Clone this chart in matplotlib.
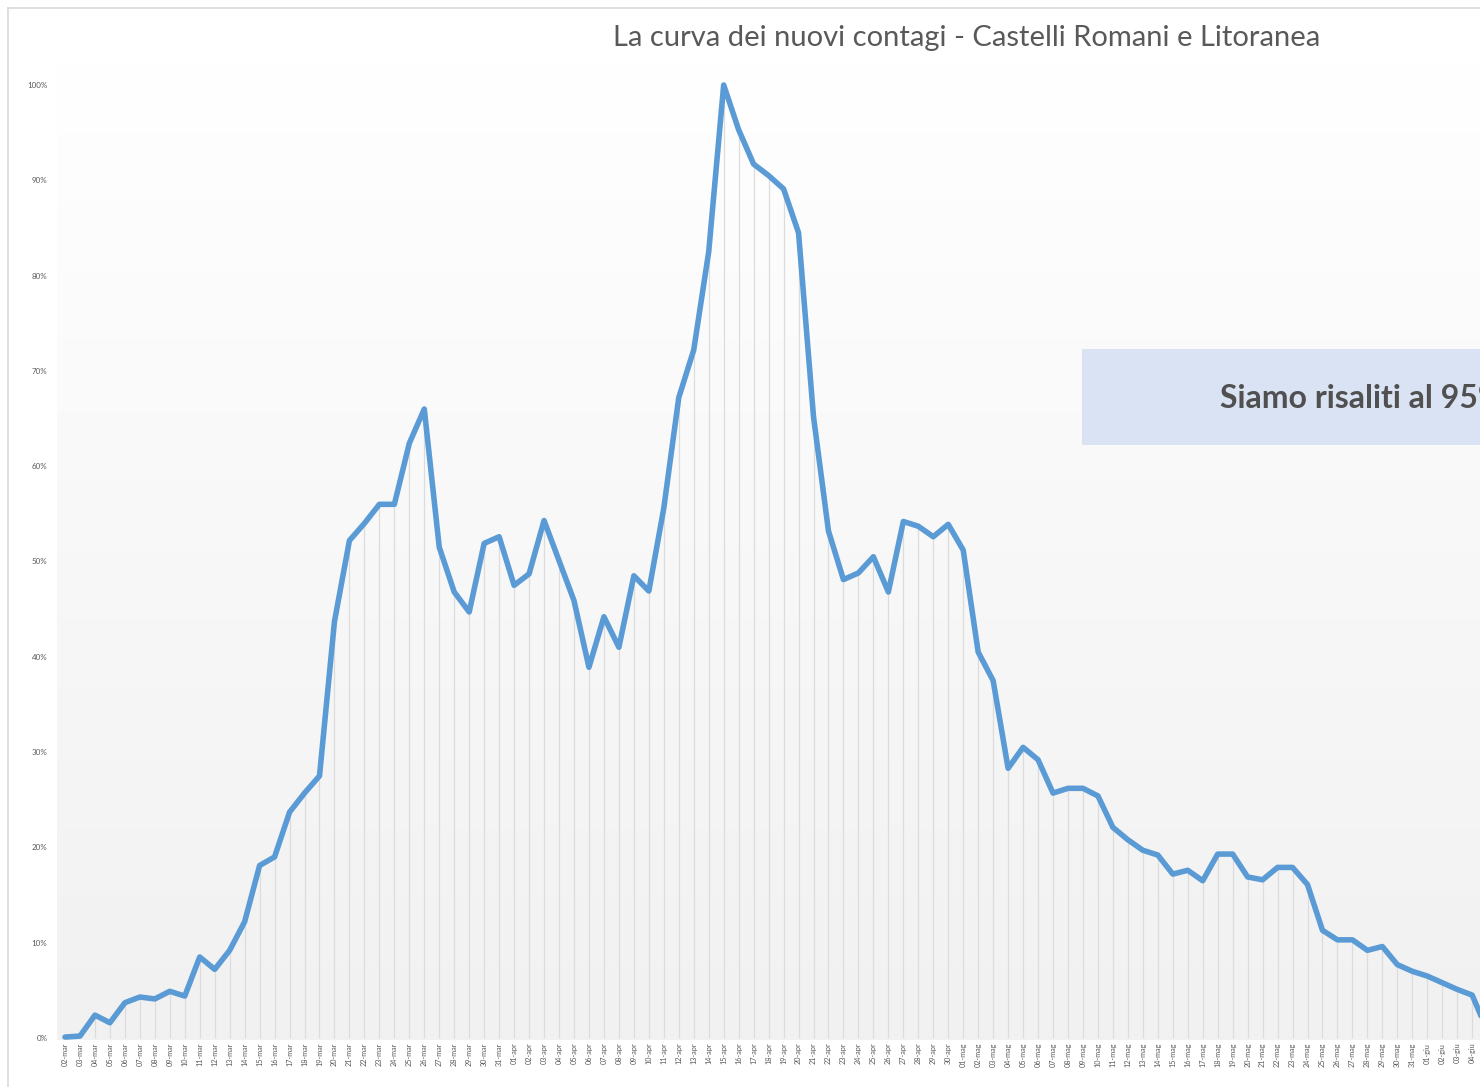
import matplotlib
matplotlib.use("Agg")
import matplotlib.pyplot as plt
import numpy as np
from matplotlib.patches import Rectangle
from matplotlib.lines import Line2D
from matplotlib.colors import LinearSegmentedColormap

plt.rcParams['font.family'] = ['Lato', 'DejaVu Sans']

# ---- data ----
months = [("mar", 2, 31), ("apr", 1, 30), ("mag", 1, 31), ("giu", 1, 5)]
dates = [f"{d:02d}-{m}" for m, a, b in months for d in range(a, b + 1)]

march = [0.1, 0.2, 2.4, 1.6, 3.7, 4.3, 4.1, 4.9, 4.4, 8.5,
         7.2, 9.2, 12.2, 18.1, 19.0, 23.7, 25.7, 27.5, 43.7, 52.2,
         54.0, 56.0, 56.0, 62.4, 66.0, 51.5, 46.8, 44.7, 51.9, 52.6]
april = [47.5, 48.7, 54.3, 50.1, 45.9, 38.9, 44.2, 41.0, 48.5, 46.9,
         55.6, 67.2, 72.2, 82.5, 100.0, 95.3, 91.7, 90.5, 89.1, 84.5,
         65.2, 53.2, 48.1, 48.8, 50.5, 46.8, 54.2, 53.7, 52.6, 53.9]
may = [51.2, 40.5, 37.5, 28.3, 30.5, 29.2, 25.7, 26.2, 26.2, 25.4,
       22.1, 20.8, 19.7, 19.2, 17.2, 17.6, 16.5, 19.3, 19.3, 16.9,
       16.6, 17.9, 17.9, 16.1, 11.3, 10.3, 10.3, 9.2, 9.6, 7.7, 7.0]
june = [6.5, 5.8, 5.1, 4.5, 0.8]
values = march + april + may + june

yticks = list(range(0, 101, 10))
ytick_labels = [f"{v}%" for v in yticks]

title = "La curva dei nuovi contagi - Castelli Romani e Litoranea"
note = "Siamo risaliti al 95%"

# ---- figure ----
W, H = 1480, 1087
fig = plt.figure(figsize=(W / 100, H / 100), dpi=100)
fig.patch.set_facecolor("white")

def px(x0, y0, x1, y1):
    return [x0 / W, 1 - y1 / H, (x1 - x0) / W, (y1 - y0) / H]

ax = fig.add_axes(px(57, 60, 1480, 1040))
x = np.arange(len(values))
step = 14.97
x0px = 65
xl = ((57 - x0px) / step, (1480 - x0px) / step)
ppu = (1038 - 85) / 100.0
yl = (-(1040 - 1038) / ppu, 100 + (85 - 60) / ppu)
ax.set_xlim(*xl)
ax.set_ylim(*yl)

cmap = LinearSegmentedColormap.from_list("g", ["#f1f1f1", "#ffffff"])
grad = np.linspace(0, 1, 256).reshape(-1, 1)
ax.imshow(grad, extent=(xl[0], xl[1], yl[0], yl[1]), origin="lower",
          aspect="auto", cmap=cmap, zorder=0)

ax.vlines(x, 0, values, colors="#dcdcdc", linewidth=0.9, zorder=1)
ax.plot(x, values, color="#5B9BD5", linewidth=4.0, solid_joinstyle="round",
        solid_capstyle="round", zorder=3)

nvis = len(dates) - 1
ax.set_yticks(yticks)
ax.set_yticklabels(ytick_labels, fontsize=5.8, color="#595959")
ax.set_xticks(x[:nvis])
ax.set_xticklabels(dates[:nvis], rotation=90, fontsize=5.2, color="#595959")
ax.tick_params(axis="y", length=0, pad=7)
ax.tick_params(axis="x", length=0, pad=2)
for s in ax.spines.values():
    s.set_visible(False)

# title
fig.text(967 / W, 1 - 38 / H, title, ha="center", va="center",
         fontsize=21, color="#595959")

# annotation box (cut at figure edge, as in the reference)
fig.patches.append(Rectangle((1082 / W, 1 - 445 / H), 600 / W, 96 / H,
                             transform=fig.transFigure, facecolor="#DAE3F3",
                             edgecolor="none", zorder=5))
fig.text(1220 / W, 1 - 398 / H, note, ha="left", va="center",
         fontsize=23, color="#505050", fontweight="bold", zorder=6)

# outer frame
fig.lines.append(Line2D([8 / W, 8 / W], [0, 1 - 8 / H], transform=fig.transFigure,
                        color="#d9d9d9", linewidth=1.2))
fig.lines.append(Line2D([8 / W, 1], [1 - 8 / H, 1 - 8 / H], transform=fig.transFigure,
                        color="#d9d9d9", linewidth=1.2))

fig.savefig("out.png", dpi=100)
